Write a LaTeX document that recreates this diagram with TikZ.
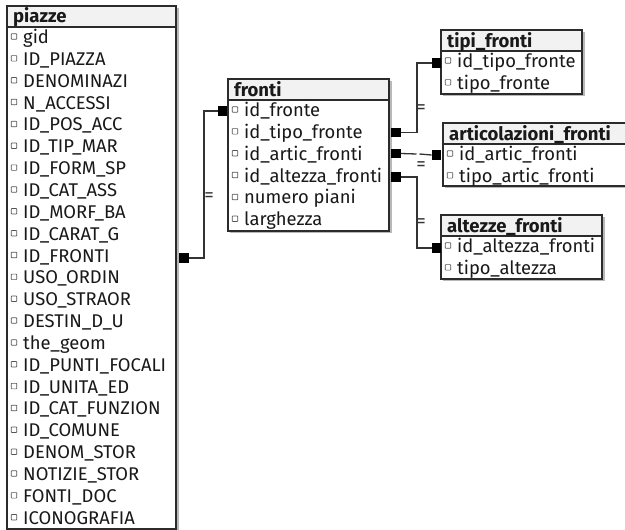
\documentclass[tikz,border=0pt]{standalone}
\usepackage{fontspec}
\setmainfont{Fira Sans}
\definecolor{framecol}{HTML}{2B2B2B}
\definecolor{titlecol}{HTML}{F2F2F2}
\definecolor{shadowcol}{HTML}{B8B8B8}
\definecolor{boxcol}{HTML}{555555}
\definecolor{linkcol}{HTML}{333333}
\tikzset{
  frame/.style={draw=framecol, line width=1.4pt, fill=white},
  titlebar/.style={draw=framecol, line width=1.4pt, fill=titlecol},
  titletext/.style={anchor=base west, inner sep=0pt, font=\fontsize{18.5}{18.5}\selectfont\bfseries, text=black!90},
  rowtext/.style={anchor=base west, inner sep=0pt, font=\fontsize{18.4}{18.4}\selectfont, text=black!90},
  cbox/.style={draw=boxcol, line width=0.7pt, fill=white, minimum size=5.5pt, inner sep=0pt, rounded corners=0.6pt},
  keysq/.style={fill=black, minimum size=9.5pt, inner sep=0pt},
  link/.style={draw=linkcol, line width=1.3pt},
  eqmark/.style={inner sep=0pt, font=\fontsize{19}{19}\selectfont, text=linkcol},
}
% #1 name, #2 left, #3 top, #4 right, #5 bottom, #6 title, #7 field list
\newcommand\dbtable[7]{%
  \fill[shadowcol] (#2+2,#3+2) rectangle (#4+2.5,#5+2);
  \draw[frame] (#2,#3) rectangle (#4,#5);
  \draw[titlebar] (#2,#3) rectangle (#4,#3+21);
  \node[titletext] (#1) at (#2+6,#3+17) {#6};
  \foreach \fld [count=\i] in {#7} {
    \node[cbox] (#1-box\i) at (#2+7,#3+30.5+\i*21.85-21.85) {};
    \node[rowtext] (#1-\i) at (#2+16,#3+37.5+\i*21.85-21.85) {\fld};
  }%
}
\begin{document}
\begin{tikzpicture}[x=1pt,y=-1pt]
  \useasboundingbox (0,0) rectangle (625,530);
  \begin{scope}
    \clip (0,0) rectangle (625,530);
    \dbtable{piazze}{7}{6}{176}{529}{piazze}{gid,ID\_PIAZZA,DENOMINAZI,N\_ACCESSI,ID\_POS\_ACC,ID\_TIP\_MAR,ID\_FORM\_SP,ID\_CAT\_ASS,ID\_MORF\_BA,ID\_CARAT\_G,ID\_FRONTI,USO\_ORDIN,USO\_STRAOR,DESTIN\_D\_U,the\_geom,ID\_PUNTI\_FOCALI,ID\_UNITA\_ED,ID\_CAT\_FUNZION,ID\_COMUNE,DENOM\_STOR,NOTIZIE\_STOR,FONTI\_DOC,ICONOGRAFIA}
    \dbtable{fronti}{228}{79}{389}{231}{fronti}{id\_fronte,id\_tipo\_fronte,id\_artic\_fronti,id\_altezza\_fronti,numero piani,larghezza}
    \dbtable{tipi}{441}{30}{582}{94}{tipi\_fronti}{id\_tipo\_fronte,tipo\_fronte}
    \dbtable{artic}{443}{123}{640}{186}{articolazioni\_fronti}{id\_artic\_fronti,tipo\_artic\_fronti}
    \dbtable{altezze}{441}{215}{602}{279}{altezze\_fronti}{id\_altezza\_fronti,tipo\_altezza}
  \end{scope}

  % key markers at the ends of each relation
  \node[keysq] (k-piazze) at (184,258) {};
  \node[keysq] (k-fronti) at (222.5,111) {};
  \node[keysq] (k-tipo) at (396,132.5) {};
  \node[keysq] (k-artic) at (396,153.5) {};
  \node[keysq] (k-alt) at (396,177) {};
  \node[keysq] (k-tipi) at (436.5,63) {};
  \node[keysq] (k-articolaz) at (436.5,155) {};
  \node[keysq] (k-altezze) at (436.5,248) {};

  % relations
  \draw[link] (k-piazze.east) -- (204,258) |- (k-fronti.west);
  \draw[link] (k-tipo.east) -- (417,132.5) |- (k-tipi.west);
  \coordinate (gap-a) at (416.5,154);
  \coordinate (gap-b) at (419.5,154);
  \draw[link] (k-artic.east) -- (gap-a);
  \draw[link] (gap-b) -- (k-articolaz.west);
  \draw[link] (k-alt.east) -- (417,177) |- (k-altezze.west);

  % cardinality marks
  \node[eqmark] (eq1) at (209,197) {=};
  \node[eqmark] (eq2) at (421,109) {=};
  \node[eqmark] (eq3) at (421,166) {=};
  \node[eqmark] (eq4) at (421,223) {=};
\end{tikzpicture}
\end{document}
